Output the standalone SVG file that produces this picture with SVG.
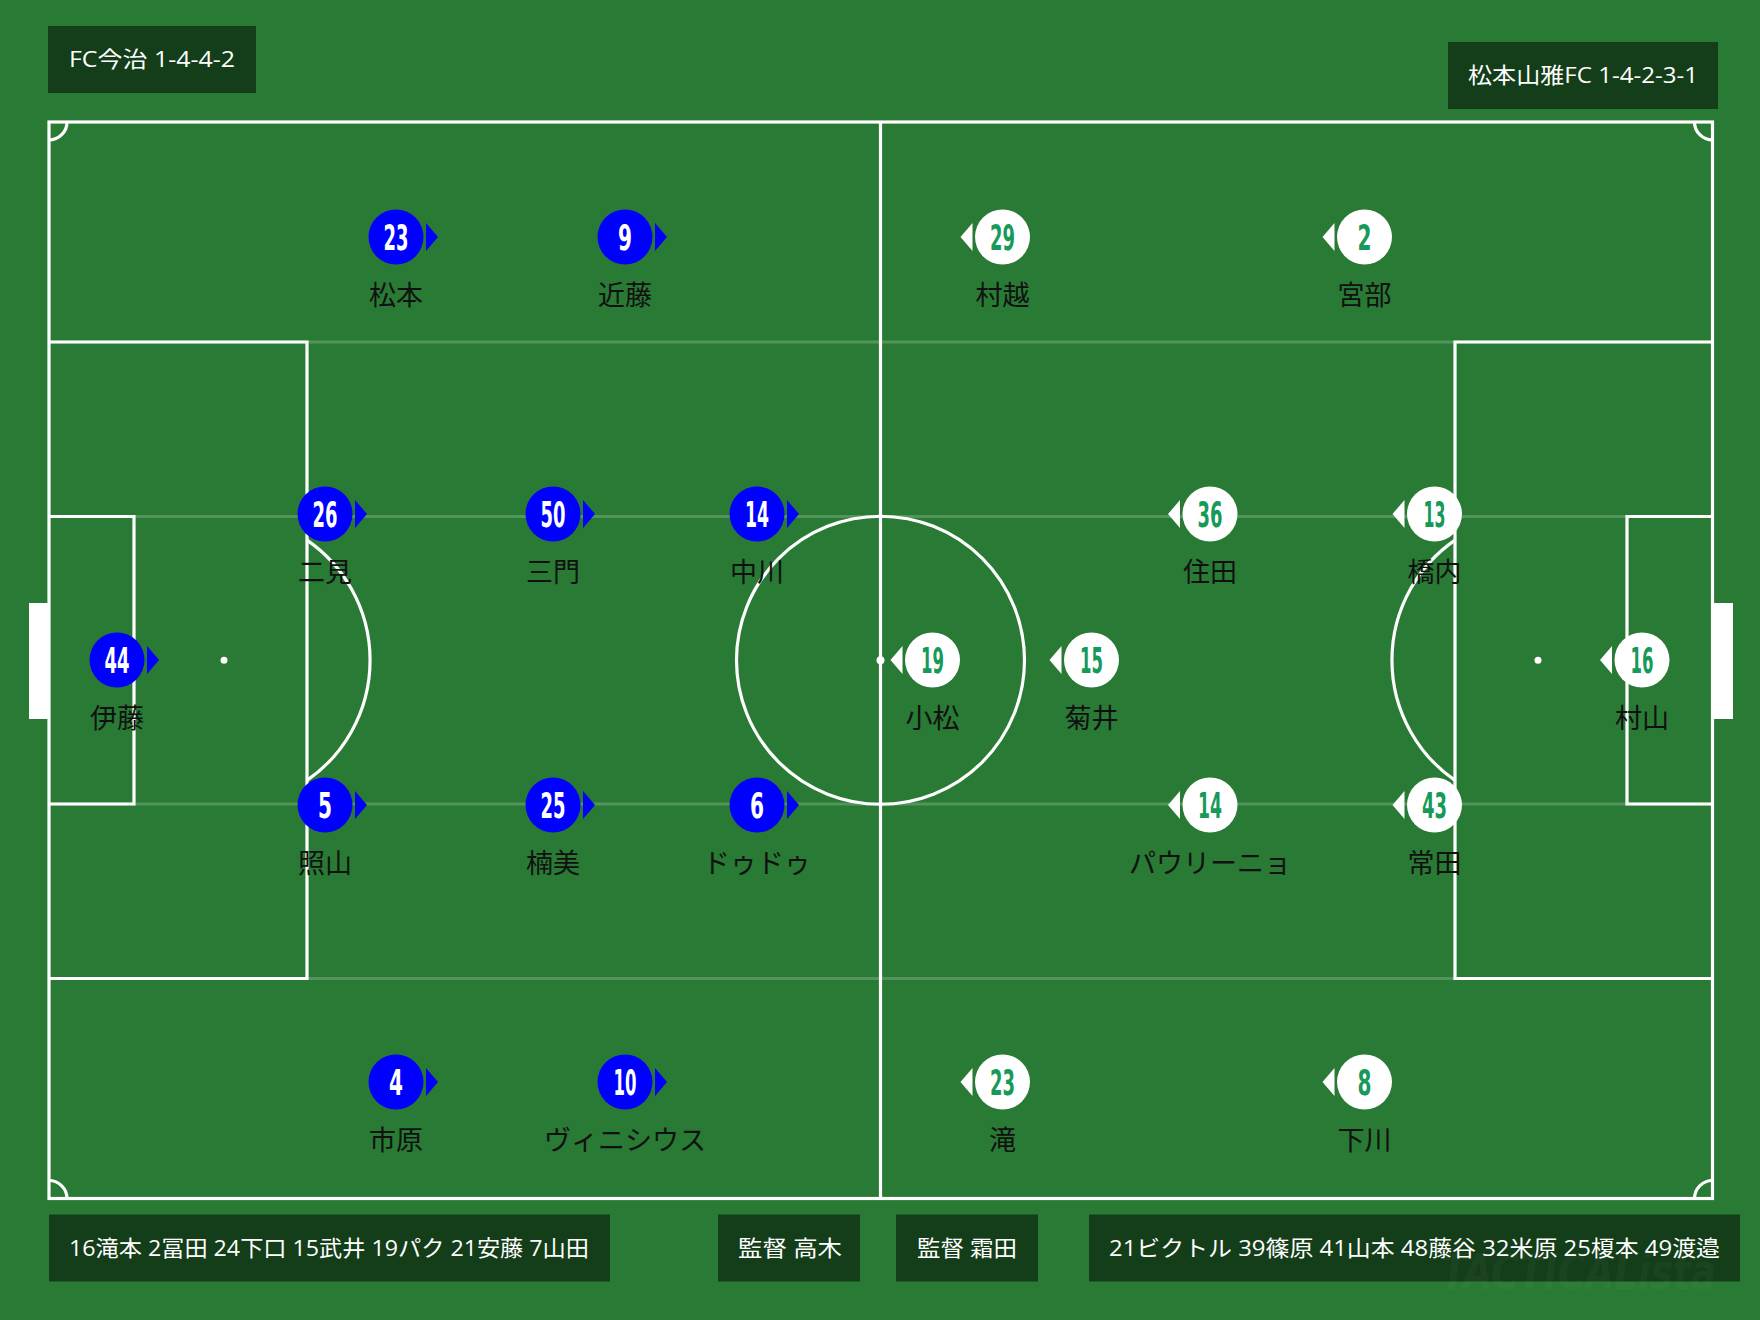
<svg xmlns="http://www.w3.org/2000/svg" width="1760" height="1320" viewBox="0 0 1760 1320">
<style>
.line{fill:none;stroke:#fff;stroke-width:3.2}
.faint{fill:none;stroke:#fff;stroke-opacity:0.2;stroke-width:3}
.box{fill:#143D19}
.boxtxt{fill:#fff;font-family:"Open Sans","Noto Sans CJK JP",sans-serif;font-size:22px}
.home circle{fill:#0000FF}
.home path{fill:#0000FF}
.away circle{fill:#fff}
.away path{fill:#fff}
.num{font-family:"DejaVu Sans Condensed","DejaVu Sans",sans-serif;font-weight:bold;font-size:35px;text-anchor:middle}
.home .num{fill:#fff}
.away .num{fill:#17995A}
.name{font-family:"Noto Sans CJK JP",sans-serif;font-size:27px;fill:#111;text-anchor:middle}
</style>
<rect x="0" y="0" width="1760" height="1320" fill="#287A34"/>

<g id="pitch">
  <line class="faint" x1="49" y1="342" x2="1712.5" y2="342"/>
  <line class="faint" x1="49" y1="516.5" x2="1712.5" y2="516.5"/>
  <line class="faint" x1="49" y1="804" x2="1712.5" y2="804"/>
  <line class="faint" x1="49" y1="978.5" x2="1712.5" y2="978.5"/>
  <rect class="line" x="49" y="122" width="1663.5" height="1076.5"/>
  <line class="line" x1="880.5" y1="122" x2="880.5" y2="1198.5"/>
  <circle class="line" cx="880.5" cy="660.25" r="144"/>
  <circle cx="880.5" cy="660.25" r="4" fill="#fff"/>
  <path class="line" d="M49,342 H307 V978.5 H49"/>
  <path class="line" d="M49,516.5 H134 V804 H49"/>
  <path class="line" d="M1712.5,342 H1455 V978.5 H1712.5"/>
  <path class="line" d="M1712.5,516.5 H1627 V804 H1712.5"/>
  <circle cx="224" cy="660.25" r="3.5" fill="#fff"/>
  <circle cx="1538" cy="660.25" r="3.5" fill="#fff"/>
  <path class="line" d="M307,540.1 A146,146 0 0 1 307,780.4"/>
  <path class="line" d="M1455,540.1 A146,146 0 0 0 1455,780.4"/>
  <path class="line" d="M49,140 A18,18 0 0 0 67,122"/>
  <path class="line" d="M1694.5,122 A18,18 0 0 0 1712.5,140"/>
  <path class="line" d="M67,1198.5 A18,18 0 0 0 49,1180.5"/>
  <path class="line" d="M1712.5,1180.5 A18,18 0 0 0 1694.5,1198.5"/>
  <rect x="29" y="603" width="20" height="116" fill="#fff"/>
  <rect x="1713" y="603" width="20" height="116" fill="#fff"/>
</g>

<g id="title-home"><rect class="box" x="48" y="26" width="208" height="67"/><text class="boxtxt" x="69" y="67" textLength="166" lengthAdjust="spacingAndGlyphs">FC今治 1-4-4-2</text></g>
<g id="title-away"><rect class="box" x="1448" y="42" width="270" height="67"/><text class="boxtxt" x="1468" y="83" textLength="230" lengthAdjust="spacingAndGlyphs">松本山雅FC 1-4-2-3-1</text></g>

<g id="home-players">
<g id="h23" class="home"><circle cx="396" cy="237" r="27.5"/><path d="M426,223 L438,237 L426,251 Z"/><text class="num" x="396" y="249.5" textLength="25" lengthAdjust="spacingAndGlyphs">23</text><text class="name" x="396" y="305">松本</text></g>
<g id="h9" class="home"><circle cx="625" cy="237" r="27.5"/><path d="M655,223 L667,237 L655,251 Z"/><text class="num" x="625" y="249.5" textLength="14" lengthAdjust="spacingAndGlyphs">9</text><text class="name" x="625" y="305">近藤</text></g>
<g id="h26" class="home"><circle cx="325" cy="514" r="27.5"/><path d="M355,500 L367,514 L355,528 Z"/><text class="num" x="325" y="526.5" textLength="25" lengthAdjust="spacingAndGlyphs">26</text><text class="name" x="325" y="582">二見</text></g>
<g id="h50" class="home"><circle cx="553" cy="514" r="27.5"/><path d="M583,500 L595,514 L583,528 Z"/><text class="num" x="553" y="526.5" textLength="25" lengthAdjust="spacingAndGlyphs">50</text><text class="name" x="553" y="582">三門</text></g>
<g id="h14" class="home"><circle cx="757" cy="514" r="27.5"/><path d="M787,500 L799,514 L787,528 Z"/><text class="num" x="757" y="526.5" textLength="24" lengthAdjust="spacingAndGlyphs">14</text><text class="name" x="757" y="582">中川</text></g>
<g id="h44" class="home"><circle cx="117" cy="660" r="27.5"/><path d="M147,646 L159,660 L147,674 Z"/><text class="num" x="117" y="672.5" textLength="25" lengthAdjust="spacingAndGlyphs">44</text><text class="name" x="117" y="728">伊藤</text></g>
<g id="h5" class="home"><circle cx="325" cy="805" r="27.5"/><path d="M355,791 L367,805 L355,819 Z"/><text class="num" x="325" y="817.5" textLength="14" lengthAdjust="spacingAndGlyphs">5</text><text class="name" x="325" y="873">照山</text></g>
<g id="h25" class="home"><circle cx="553" cy="805" r="27.5"/><path d="M583,791 L595,805 L583,819 Z"/><text class="num" x="553" y="817.5" textLength="25" lengthAdjust="spacingAndGlyphs">25</text><text class="name" x="553" y="873">楠美</text></g>
<g id="h6" class="home"><circle cx="757" cy="805" r="27.5"/><path d="M787,791 L799,805 L787,819 Z"/><text class="num" x="757" y="817.5" textLength="14" lengthAdjust="spacingAndGlyphs">6</text><text class="name" x="757" y="873">ドゥドゥ</text></g>
<g id="h4" class="home"><circle cx="396" cy="1082" r="27.5"/><path d="M426,1068 L438,1082 L426,1096 Z"/><text class="num" x="396" y="1094.5" textLength="14" lengthAdjust="spacingAndGlyphs">4</text><text class="name" x="396" y="1150">市原</text></g>
<g id="h10" class="home"><circle cx="625" cy="1082" r="27.5"/><path d="M655,1068 L667,1082 L655,1096 Z"/><text class="num" x="625" y="1094.5" textLength="23" lengthAdjust="spacingAndGlyphs">10</text><text class="name" x="625" y="1150">ヴィニシウス</text></g>
</g>

<g id="away-players">
<g id="a29" class="away"><circle cx="1002.5" cy="237" r="27.5"/><path d="M960.5,237 L972.5,223 L972.5,251 Z"/><text class="num" x="1002.5" y="249.5" textLength="25" lengthAdjust="spacingAndGlyphs">29</text><text class="name" x="1002.5" y="305">村越</text></g>
<g id="a2" class="away"><circle cx="1364.5" cy="237" r="27.5"/><path d="M1322.5,237 L1334.5,223 L1334.5,251 Z"/><text class="num" x="1364.5" y="249.5" textLength="14" lengthAdjust="spacingAndGlyphs">2</text><text class="name" x="1364.5" y="305">宮部</text></g>
<g id="a36" class="away"><circle cx="1210" cy="514" r="27.5"/><path d="M1168,514 L1180,500 L1180,528 Z"/><text class="num" x="1210" y="526.5" textLength="25" lengthAdjust="spacingAndGlyphs">36</text><text class="name" x="1210" y="582">住田</text></g>
<g id="a13" class="away"><circle cx="1434.5" cy="514" r="27.5"/><path d="M1392.5,514 L1404.5,500 L1404.5,528 Z"/><text class="num" x="1434.5" y="526.5" textLength="22" lengthAdjust="spacingAndGlyphs">13</text><text class="name" x="1434.5" y="582">橋内</text></g>
<g id="a19" class="away"><circle cx="932.5" cy="660" r="27.5"/><path d="M890.5,660 L902.5,646 L902.5,674 Z"/><text class="num" x="932.5" y="672.5" textLength="23" lengthAdjust="spacingAndGlyphs">19</text><text class="name" x="932.5" y="728">小松</text></g>
<g id="a15" class="away"><circle cx="1091.5" cy="660" r="27.5"/><path d="M1049.5,660 L1061.5,646 L1061.5,674 Z"/><text class="num" x="1091.5" y="672.5" textLength="23" lengthAdjust="spacingAndGlyphs">15</text><text class="name" x="1091.5" y="728">菊井</text></g>
<g id="a16" class="away"><circle cx="1642" cy="660" r="27.5"/><path d="M1600,660 L1612,646 L1612,674 Z"/><text class="num" x="1642" y="672.5" textLength="23" lengthAdjust="spacingAndGlyphs">16</text><text class="name" x="1642" y="728">村山</text></g>
<g id="a14" class="away"><circle cx="1210" cy="805" r="27.5"/><path d="M1168,805 L1180,791 L1180,819 Z"/><text class="num" x="1210" y="817.5" textLength="24" lengthAdjust="spacingAndGlyphs">14</text><text class="name" x="1210" y="873">パウリーニョ</text></g>
<g id="a43" class="away"><circle cx="1434.5" cy="805" r="27.5"/><path d="M1392.5,805 L1404.5,791 L1404.5,819 Z"/><text class="num" x="1434.5" y="817.5" textLength="25" lengthAdjust="spacingAndGlyphs">43</text><text class="name" x="1434.5" y="873">常田</text></g>
<g id="a23" class="away"><circle cx="1002.5" cy="1082" r="27.5"/><path d="M960.5,1082 L972.5,1068 L972.5,1096 Z"/><text class="num" x="1002.5" y="1094.5" textLength="25" lengthAdjust="spacingAndGlyphs">23</text><text class="name" x="1002.5" y="1150">滝</text></g>
<g id="a8" class="away"><circle cx="1364.5" cy="1082" r="27.5"/><path d="M1322.5,1082 L1334.5,1068 L1334.5,1096 Z"/><text class="num" x="1364.5" y="1094.5" textLength="14" lengthAdjust="spacingAndGlyphs">8</text><text class="name" x="1364.5" y="1150">下川</text></g>
</g>

<g id="subs-home"><rect class="box" x="49" y="1214.5" width="561" height="67"/><text class="boxtxt" x="69" y="1256" textLength="520" lengthAdjust="spacingAndGlyphs">16滝本 2冨田 24下口 15武井 19パク 21安藤 7山田</text></g>
<g id="coach-home"><rect class="box" x="718" y="1214.5" width="142" height="67"/><text class="boxtxt" x="738" y="1256" textLength="104" lengthAdjust="spacingAndGlyphs">監督 高木</text></g>
<g id="coach-away"><rect class="box" x="896" y="1214.5" width="142" height="67"/><text class="boxtxt" x="917" y="1256" textLength="100" lengthAdjust="spacingAndGlyphs">監督 霜田</text></g>
<g id="subs-away"><rect class="box" x="1089" y="1214.5" width="651" height="67"/><text class="boxtxt" x="1109" y="1256" textLength="611" lengthAdjust="spacingAndGlyphs">21ビクトル 39篠原 41山本 48藤谷 32米原 25榎本 49渡邉</text></g>
<text x="1441" y="1289" fill="#fff" fill-opacity="0.05" font-family="DejaVu Sans Condensed,DejaVu Sans,sans-serif" font-weight="bold" font-style="italic" font-size="50" textLength="275" lengthAdjust="spacingAndGlyphs">TACTICALista</text>
</svg>
